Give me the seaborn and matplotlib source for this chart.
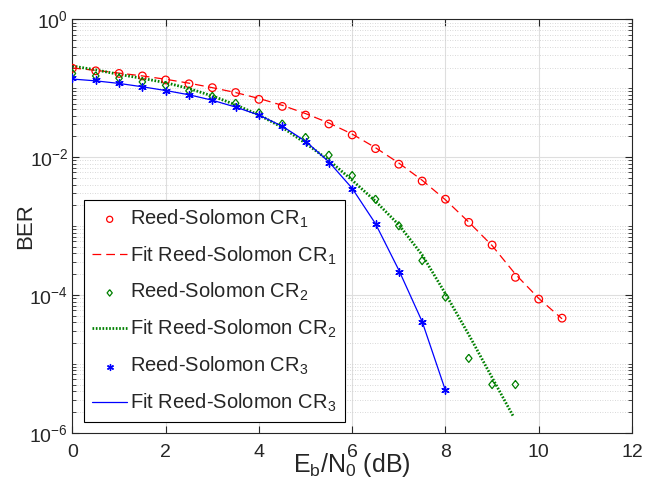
import numpy as np
import pandas as pd
import matplotlib
matplotlib.use("Agg")
import matplotlib.pyplot as plt
import matplotlib.ticker as mticker
import seaborn as sns

# ---------------- data ----------------
x_cr1 = [0, 0.5, 1, 1.5, 2, 2.5, 3, 3.5, 4, 4.5, 5, 5.5, 6, 6.5, 7, 7.5, 8, 8.5, 9, 9.5, 10, 10.5]
ber_cr1 = [0.195, 0.179, 0.164, 0.151, 0.132, 0.116, 0.102, 0.0866, 0.069, 0.0545, 0.0408, 0.0303,
           0.0210, 0.0133, 0.0079, 0.0045, 0.00245, 0.00113, 0.00053, 0.000180, 8.7e-5, 4.6e-5]
fit_cr1 = [0.197, 0.182, 0.166, 0.151, 0.135, 0.1185, 0.102, 0.0866, 0.0711, 0.0565, 0.0429, 0.0313,
           0.0216, 0.0137, 0.0082, 0.00462, 0.0024, 0.00114, 0.00052, 0.0002, 8.9e-5, 4.5e-5]

x_cr2 = [0, 0.5, 1, 1.5, 2, 2.5, 3, 3.5, 4, 4.5, 5, 5.5, 6, 6.5, 7, 7.5, 8, 8.5, 9, 9.5]
ber_cr2 = [0.164, 0.151, 0.140, 0.1236, 0.110, 0.0918, 0.0762, 0.0607, 0.0440, 0.0303, 0.0193, 0.0107,
           0.0054, 0.00245, 0.00101, 0.000315, 9.3e-5, 1.2e-5, 5.0e-6, 5.0e-6]
x_fit2 = [0, 0.5, 1, 1.5, 2, 2.5, 3, 3.5, 4, 4.5, 5, 5.5, 6, 6.5, 7, 7.5, 8, 8.5, 9, 9.45]
fit_cr2 = [0.210, 0.185, 0.159, 0.139, 0.1206, 0.099, 0.0773, 0.0575, 0.0408, 0.0271, 0.0159, 0.0090,
           0.00462, 0.00229, 0.00104, 0.000381, 0.000104, 2.65e-5, 6.3e-6, 1.75e-6]

x_cr3 = [0, 0.5, 1, 1.5, 2, 2.5, 3, 3.5, 4, 4.5, 5, 5.5, 6, 6.5, 7, 7.5, 8]
ber_cr3 = [0.143, 0.131, 0.1185, 0.104, 0.0918, 0.0794, 0.067, 0.0533, 0.0408, 0.0281, 0.0166, 0.00834,
           0.0034, 0.00107, 0.000214, 4.1e-5, 4.1e-6]
fit_cr3 = [0.136, 0.128, 0.1175, 0.105, 0.0927, 0.0804, 0.067, 0.0533, 0.0408, 0.0281, 0.0170, 0.00855,
           0.00352, 0.00108, 0.000229, 4.1e-5, 4.1e-6]

x_ticks = [0, 2, 4, 6, 8, 10, 12]
y_major = [1e-6, 1e-4, 1e-2, 1e0]

labels = ["Reed-Solomon CR$_{\\mathregular{1}}$", "Fit Reed-Solomon CR$_{\\mathregular{1}}$",
          "Reed-Solomon CR$_{\\mathregular{2}}$", "Fit Reed-Solomon CR$_{\\mathregular{2}}$",
          "Reed-Solomon CR$_{\\mathregular{3}}$", "Fit Reed-Solomon CR$_{\\mathregular{3}}$"]

# ---------------- style ----------------
sns.set_theme(style="ticks")
plt.rcParams["font.family"] = ["Liberation Sans", "DejaVu Sans"]
plt.rcParams["mathtext.fontset"] = "custom"
plt.rcParams["mathtext.rm"] = "Liberation Sans"
plt.rcParams["mathtext.it"] = "Liberation Sans:italic"
plt.rcParams["mathtext.bf"] = "Liberation Sans:bold"
plt.rcParams["axes.unicode_minus"] = False

fig = plt.figure(figsize=(6.56, 4.84), dpi=100)
ax = fig.add_axes([0.1104, 0.106, 0.853, 0.854])

red, green, blue = (1, 0, 0), (0, 0.5, 0), (0, 0, 1)
diamond = [(0, 1), (0.8, 0), (0, -1), (-0.8, 0), (0, 1)]

sns.scatterplot(x=x_cr1, y=ber_cr1, ax=ax, marker="o", s=30, facecolor="none",
                edgecolor=red, linewidth=0.9, label=labels[0], zorder=3)
sns.lineplot(x=x_cr1, y=fit_cr1, ax=ax, color=red, linewidth=0.9, label=labels[1],
             dashes=False, zorder=2)
sns.scatterplot(x=x_cr2, y=ber_cr2, ax=ax, marker=diamond, s=34, facecolor="none",
                edgecolor=green, linewidth=0.9, label=labels[2], zorder=3)
sns.lineplot(x=x_fit2, y=fit_cr2, ax=ax, color=green, linewidth=2.0, label=labels[3],
             dashes=False, zorder=2)
sns.scatterplot(x=x_cr3, y=ber_cr3, ax=ax, marker=(6, 2, 0), s=28, color=blue,
                linewidth=1.0, label=labels[4], zorder=3)
sns.lineplot(x=x_cr3, y=fit_cr3, ax=ax, color=blue, linewidth=0.9, label=labels[5],
             dashes=False, zorder=2)

lines = ax.get_lines()
lines[0].set_dashes((7, 4))
lines[1].set_dashes((0.6, 0.6))

ax.set_yscale("log")
ax.set_xlim(0, 12)
ax.set_ylim(1e-6, 1e0)
ax.set_xticks(x_ticks)
ax.xaxis.set_major_formatter(mticker.FormatStrFormatter("%d"))
ax.yaxis.set_major_locator(mticker.FixedLocator(y_major))
ax.yaxis.set_major_formatter(mticker.LogFormatterSciNotation())
minor = [m * 10.0 ** k for k in range(-6, 0) for m in range(1, 10) if not (m == 1 and k % 2 == 0)]
ax.yaxis.set_minor_locator(mticker.FixedLocator(minor))
ax.yaxis.set_minor_formatter(mticker.NullFormatter())
ax.xaxis.set_minor_locator(mticker.NullLocator())

ax.grid(True, which="major", color=(0.87, 0.87, 0.87), linewidth=0.8, linestyle="-")
ax.grid(True, which="minor", axis="y", color=(0.8, 0.8, 0.8), linewidth=0.6, linestyle=(0, (1, 2)))
ax.set_axisbelow(True)

dark = (0.15, 0.15, 0.15)
for sp in ax.spines.values():
    sp.set_visible(True)
    sp.set_color(dark)
    sp.set_linewidth(0.8)
ax.tick_params(which="both", direction="in", top=True, right=True, colors=dark,
               labelsize=14, labelcolor=dark)
ax.tick_params(which="major", length=5, width=0.8)
ax.tick_params(axis="x", which="major", pad=8)
ax.tick_params(axis="y", which="major", pad=3)
ax.tick_params(which="minor", length=3, width=0.6)

ax.set_xlabel("E$_\\mathregular{b}$/N$_\\mathregular{0}$ (dB)", fontsize=18, color=dark)
ax.xaxis.set_label_coords(0.5, -0.045)
ax.set_ylabel("BER", fontsize=16, color=dark)
ax.yaxis.set_label_coords(-0.064, 0.5)

h, l = ax.get_legend_handles_labels()
leg = ax.legend(h, l, loc="lower left", bbox_to_anchor=(0.0207, 0.026), borderaxespad=0,
                fontsize=14.5, frameon=True, fancybox=False, edgecolor="black",
                framealpha=1, handlelength=1.75, handletextpad=0.15, labelspacing=0.72,
                borderpad=0.4, markerscale=0.8)
leg.get_frame().set_linewidth(0.8)

fig.savefig("out.png", dpi=100)
